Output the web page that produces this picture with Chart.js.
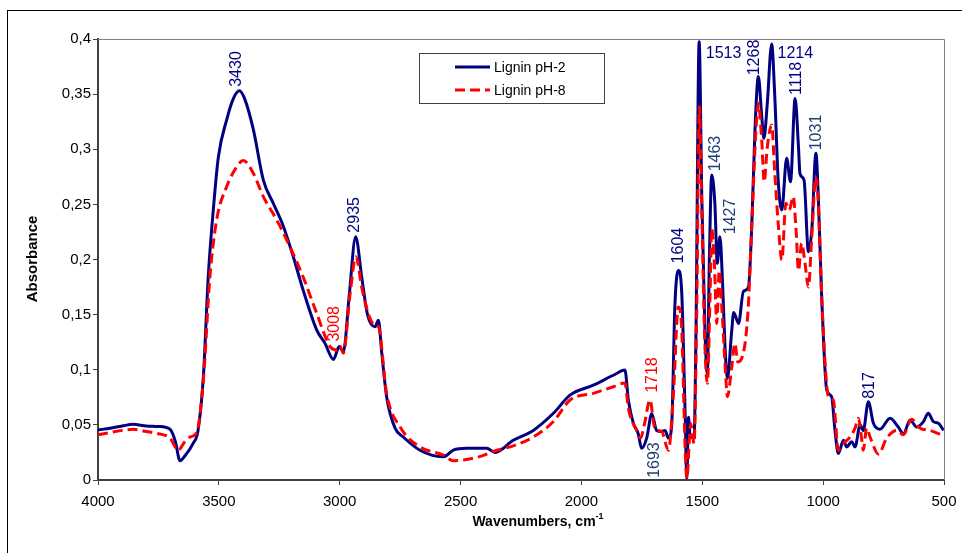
<!DOCTYPE html>
<html>
<head>
<meta charset="utf-8">
<script src="https://cdn.jsdelivr.net/npm/chart.js@4.4.1/dist/chart.umd.min.js"></script>
<style>
  html, body { margin: 0; padding: 0; background: #fff; }
  #wrap { width: 962px; height: 553px; }
</style>
</head>
<body>
<div id="wrap"><canvas id="chart" width="962" height="553"></canvas></div>
<script>
// Lignin pH-2
const wnPH2 = [
  4000, 3950, 3900, 3855, 3800, 3750, 3702, 3680, 3661, 3640, 3607, 3586, 3564, 3544, 3523, 3502,
  3468, 3440, 3415, 3392, 3357, 3316, 3275, 3233, 3192, 3151, 3095, 3061, 3026, 3002, 2985, 2960,
  2934, 2909, 2885, 2854, 2840, 2826, 2806, 2771, 2737, 2668, 2571, 2530, 2475, 2392, 2357, 2282,
  2199, 2116, 2047, 1951, 1868, 1820, 1806, 1785, 1765, 1751, 1730, 1709, 1689, 1668, 1654, 1640,
  1627, 1613, 1599, 1585, 1571, 1564, 1557, 1550, 1534, 1526, 1513, 1502, 1489, 1479, 1471, 1461,
  1448, 1438, 1427, 1416, 1406, 1396, 1378, 1370, 1350, 1330, 1309, 1296, 1282, 1268, 1254, 1245,
  1231, 1213, 1200, 1186, 1171, 1151, 1135, 1116, 1102, 1096, 1079, 1061, 1047, 1030, 1020, 1006,
  985, 965, 951, 937, 916, 903, 882, 868, 847, 834, 813, 792, 765, 723, 689, 668,
  640, 613, 585, 565, 544, 523, 502
];
const absPH2 = [
  0.0454, 0.047, 0.049, 0.0505, 0.049, 0.0485, 0.046, 0.035, 0.0175, 0.022, 0.033, 0.045, 0.094, 0.184, 0.245, 0.293,
  0.3265, 0.346, 0.353, 0.345, 0.3175, 0.272, 0.251, 0.230, 0.2025, 0.172, 0.136, 0.124, 0.1094, 0.121, 0.1164, 0.169,
  0.2207, 0.184, 0.150, 0.139, 0.145, 0.115, 0.0756, 0.047, 0.039, 0.027, 0.021, 0.027, 0.0287, 0.0287, 0.025, 0.036,
  0.045, 0.0605, 0.077, 0.086, 0.095, 0.0998, 0.0726, 0.0514, 0.042, 0.0287, 0.038, 0.060, 0.045, 0.044, 0.045, 0.038,
  0.048, 0.160, 0.190, 0.170, 0.0605, 0.002, 0.057, 0.039, 0.039, 0.136, 0.3976, 0.257, 0.136, 0.0967, 0.1965, 0.2766,
  0.251, 0.1965, 0.2207, 0.178, 0.121, 0.092, 0.136, 0.152, 0.142, 0.171, 0.175, 0.2268, 0.3175, 0.366, 0.3295, 0.310,
  0.3417, 0.3955, 0.3477, 0.272, 0.245, 0.2918, 0.2706, 0.346, 0.302, 0.278, 0.272, 0.207, 0.2268, 0.2963, 0.257, 0.166,
  0.0816, 0.0756, 0.045, 0.024, 0.036, 0.030, 0.0347, 0.030, 0.050, 0.045, 0.071, 0.0514, 0.046, 0.056, 0.048, 0.042,
  0.0544, 0.048, 0.053, 0.0605, 0.053, 0.0514, 0.045
];

// Lignin pH-8
const wnPH8 = [
  4000, 3950, 3900, 3855, 3800, 3750, 3702, 3668, 3640, 3619, 3592, 3564, 3537, 3509, 3468, 3426,
  3399, 3357, 3316, 3261, 3206, 3151, 3095, 3040, 3012, 2999, 2985, 2957, 2933, 2909, 2882, 2854,
  2840, 2806, 2750, 2668, 2571, 2530, 2433, 2350, 2282, 2199, 2116, 2047, 1951, 1868, 1820, 1806,
  1771, 1755, 1740, 1716, 1700, 1689, 1668, 1640, 1620, 1599, 1585, 1571, 1564, 1548, 1534, 1524,
  1512, 1502, 1489, 1479, 1468, 1461, 1450, 1440, 1430, 1420, 1406, 1396, 1378, 1365, 1353, 1323,
  1309, 1296, 1278, 1268, 1254, 1244, 1231, 1213, 1200, 1186, 1171, 1154, 1140, 1124, 1112, 1102,
  1089, 1075, 1061, 1047, 1030, 1020, 1006, 978, 958, 937, 916, 889, 868, 854, 840, 834,
  820, 806, 771, 737, 696, 668, 634, 599, 558, 502
];
const absPH8 = [
  0.041, 0.043, 0.045, 0.046, 0.044, 0.042, 0.038, 0.027, 0.035, 0.039, 0.043, 0.091, 0.184, 0.236, 0.266, 0.284,
  0.2897, 0.278, 0.257, 0.236, 0.2116, 0.184, 0.151, 0.121, 0.118, 0.1215, 0.115, 0.169, 0.2025, 0.175, 0.151, 0.140,
  0.139, 0.0786, 0.048, 0.030, 0.0226, 0.0175, 0.0205, 0.027, 0.031, 0.039, 0.053, 0.0726, 0.0786, 0.0846, 0.088, 0.065,
  0.045, 0.038, 0.050, 0.0726, 0.050, 0.045, 0.044, 0.027, 0.0756, 0.157, 0.136, 0.030, 0.0015, 0.051, 0.033, 0.136,
  0.3386, 0.242, 0.121, 0.0877, 0.166, 0.228, 0.1965, 0.142, 0.190, 0.160, 0.106, 0.0756, 0.1028, 0.124, 0.107, 0.124,
  0.160, 0.2268, 0.3175, 0.3417, 0.308, 0.2706, 0.302, 0.322, 0.278, 0.233, 0.1995, 0.251, 0.245, 0.257, 0.2268, 0.190,
  0.2147, 0.1965, 0.175, 0.2207, 0.275, 0.251, 0.166, 0.0756, 0.0726, 0.027, 0.033, 0.039, 0.047, 0.056, 0.036, 0.027,
  0.047, 0.039, 0.0236, 0.038, 0.045, 0.041, 0.055, 0.047, 0.045, 0.040
];

const seriesNames = ["Lignin pH-2", "Lignin pH-8"];
const xTicks = [4000, 3500, 3000, 2500, 2000, 1500, 1000, 500];
const yTicks = [0, 0.05, 0.1, 0.15, 0.2, 0.25, 0.3, 0.35, 0.4];

// peak labels: text, wavenumber / absorbance of the label centre, series, rotated
const peakLabels = [
  ["3430", 3432, 0.3728, 0, true],
  ["2935", 2941, 0.2405, 0, true],
  ["3008", 3024, 0.1417, 1, true],
  ["1718", 1709, 0.0952, 1, true],
  ["1693", 1702, 0.0181, 2, true],
  ["1604", 1603, 0.2126, 0, true],
  ["1513", 1412, 0.3873, 0, false],
  ["1463", 1450, 0.2961, 2, true],
  ["1427", 1388, 0.2390, 2, true],
  ["1268", 1289, 0.3832, 0, true],
  ["1214", 1115, 0.3878, 0, false],
  ["1118", 1113, 0.3643, 0, true],
  ["1031", 1033, 0.3152, 2, true],
  ["817", 811, 0.0857, 0, true]
];

const FONT = "'Liberation Sans', Arial, sans-serif";
const BLUE = "#000080";
const RED = "#ff0000";
const labelColors = [BLUE, RED, "#1f3f73"];

function toPoints(xs, ys) {
  return xs.map((w, i) => ({ x: w, y: ys[i] }));
}

// extra drawing: frame, peak labels, legend box, axis titles
const extras = {
  id: "extras",
  afterDatasetsDraw(chart) {
    const { ctx, chartArea: a, scales } = chart;
    const sx = scales.x, sy = scales.y;
    ctx.save();

    // thin frame round the plot area (top and right)
    ctx.strokeStyle = "#7f7f7f";
    ctx.lineWidth = 1;
    ctx.beginPath();
    ctx.moveTo(a.left, a.top + 0.5);
    ctx.lineTo(a.right + 0.5, a.top + 0.5);
    ctx.lineTo(a.right + 0.5, a.bottom);
    ctx.stroke();

    // peak labels
    ctx.font = "16px " + FONT;
    ctx.textAlign = "center";
    ctx.textBaseline = "middle";
    peakLabels.forEach(([txt, wn, ab, s, rot]) => {
      const px = sx.getPixelForValue(wn);
      const py = sy.getPixelForValue(ab);
      ctx.save();
      ctx.translate(px, py);
      if (rot) ctx.rotate(-Math.PI / 2);
      ctx.fillStyle = labelColors[s];
      ctx.fillText(txt, 0, 1);
      ctx.restore();
    });

    // legend
    ctx.fillStyle = "#fff";
    ctx.fillRect(419, 53, 185, 50);
    ctx.strokeStyle = "#404040";
    ctx.lineWidth = 1;
    ctx.strokeRect(419.5, 53.5, 185, 50);
    const ds = chart.data.datasets;
    [0, 1].forEach((i) => {
      const d = ds.find((q) => q.label === seriesNames[i]);
      const ly = 67 + i * 23;
      ctx.strokeStyle = d.borderColor;
      ctx.lineWidth = 3;
      ctx.setLineDash(d.borderDash || []);
      ctx.beginPath();
      ctx.moveTo(455, ly);
      ctx.lineTo(490, ly);
      ctx.stroke();
      ctx.setLineDash([]);
      ctx.fillStyle = "#000";
      ctx.font = "14px " + FONT;
      ctx.textAlign = "left";
      ctx.fillText(seriesNames[i], 494, ly + 1);
    });

    // axis titles
    ctx.fillStyle = "#000";
    ctx.save();
    ctx.translate(33, 259);
    ctx.rotate(-Math.PI / 2);
    ctx.font = "bold 15px " + FONT;
    ctx.textAlign = "center";
    ctx.fillText("Absorbance", 0, 0);
    ctx.restore();

    ctx.font = "bold 14px " + FONT;
    const main = "Wavenumbers, cm";
    const w1 = ctx.measureText(main).width;
    ctx.font = "bold 9px " + FONT;
    const w2 = ctx.measureText("-1").width;
    const x0 = 538 - (w1 + w2) / 2;
    ctx.textAlign = "left";
    ctx.font = "bold 14px " + FONT;
    ctx.fillText(main, x0, 522);
    ctx.font = "bold 9px " + FONT;
    ctx.fillText("-1", x0 + w1, 517);

    // outer frame
    ctx.strokeStyle = "#000";
    ctx.lineWidth = 1;
    ctx.strokeRect(7.5, 10.5, 2000, 2000);
    ctx.restore();
  }
};

new Chart(document.getElementById("chart"), {
  type: "line",
  data: {
    datasets: [
      {
        label: seriesNames[0],
        data: toPoints(wnPH2, absPH2),
        borderColor: BLUE,
        borderWidth: 3,
        pointRadius: 0,
        cubicInterpolationMode: "monotone",
        order: 1
      },
      {
        label: seriesNames[1],
        data: toPoints(wnPH8, absPH8),
        borderColor: RED,
        borderWidth: 3,
        borderDash: [10, 5],
        pointRadius: 0,
        cubicInterpolationMode: "monotone",
        order: 0
      }
    ]
  },
  options: {
    responsive: false,
    animation: false,
    devicePixelRatio: 1,
    layout: { padding: { top: 39, right: 18, left: 0, bottom: 0 } },
    plugins: { legend: { display: false }, title: { display: false }, tooltip: { enabled: false } },
    scales: {
      x: {
        type: "linear",
        reverse: true,
        min: 500,
        max: 4000,
        afterFit: (s) => { s.height = 73; s.paddingLeft = 0; s.paddingRight = 0; },
        afterBuildTicks: (s) => { s.ticks = xTicks.map((v) => ({ value: v })); },
        grid: { drawOnChartArea: false, tickLength: 5, color: "#404040", lineWidth: 1 },
        border: { color: "#404040", width: 2 },
        ticks: {
          color: "#000",
          font: { family: FONT, size: 15 },
          padding: 8,
          maxRotation: 0,
          autoSkip: false,
          callback: (v) => String(v)
        }
      },
      y: {
        min: 0,
        max: 0.4,
        afterFit: (s) => { s.width = 98; s.paddingTop = 0; s.paddingBottom = 0; },
        afterBuildTicks: (s) => { s.ticks = yTicks.map((v) => ({ value: v })); },
        grid: { drawOnChartArea: false, tickLength: 5, color: "#404040", lineWidth: 1 },
        border: { color: "#404040", width: 2 },
        ticks: {
          color: "#000",
          font: { family: FONT, size: 15 },
          padding: 2,
          callback: (v) => String(Math.round(v * 100) / 100).replace(".", ",")
        }
      }
    }
  },
  plugins: [extras]
});
</script>
</body>
</html>
